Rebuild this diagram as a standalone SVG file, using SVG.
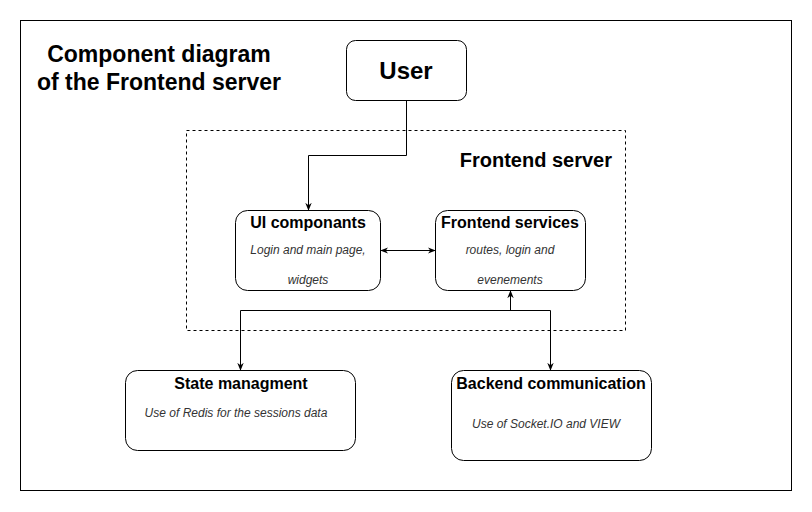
<svg xmlns="http://www.w3.org/2000/svg" width="812" height="512" viewBox="0 0 812 512">
<defs>
<marker id="arr" viewBox="0 0 10 10" refX="9" refY="5" markerWidth="8" markerHeight="8" markerUnits="userSpaceOnUse" orient="auto-start-reverse">
<path d="M0,1 L10,5 L0,9 L3,5 Z" fill="#000"/>
</marker>
<style>
.box{fill:#fff;stroke:#000;stroke-width:1}
.t{font-family:"Liberation Sans",Arial,sans-serif;font-weight:bold;fill:#000;text-anchor:middle}
.s{font-family:"Liberation Sans",Arial,sans-serif;font-style:italic;font-size:12px;fill:#333;text-anchor:middle}
.c{fill:none;stroke:#000;stroke-width:1}
</style>
</defs>
<rect x="0" y="0" width="812" height="512" fill="#fff"/>
<rect id="frame" x="20.5" y="20.5" width="771" height="470" fill="#fff" stroke="#000"/>
<g id="title">
<text class="t" x="159" y="62" font-size="23">Component diagram</text>
<text class="t" x="159" y="90" font-size="23">of the Frontend server</text>
</g>
<g id="frontend-server">
<rect x="186.5" y="130.5" width="439" height="200" fill="none" stroke="#000" stroke-dasharray="3,3"/>
<text class="t" x="612" y="167" font-size="20" style="text-anchor:end">Frontend server</text>
</g>
<g id="user">
<rect class="box" x="346.5" y="40.5" width="120" height="60" rx="9"/>
<text class="t" x="406" y="79" font-size="24">User</text>
</g>
<g id="ui">
<rect class="box" x="235.5" y="210.5" width="145" height="80" rx="12"/>
<text class="t" x="308" y="228" font-size="16">UI componants</text>
<text class="s" x="308" y="254">Login and main page,</text>
<text class="s" x="308" y="284">widgets</text>
</g>
<g id="services">
<rect class="box" x="435.5" y="210.5" width="150" height="80" rx="12"/>
<text class="t" x="510" y="228" font-size="16">Frontend services</text>
<text class="s" x="510" y="254">routes, login and</text>
<text class="s" x="510" y="284">evenements</text>
</g>
<g id="state">
<rect class="box" x="125.5" y="370.5" width="230" height="80" rx="12"/>
<text class="t" x="241" y="389" font-size="16">State managment</text>
<text class="s" x="236" y="417">Use of Redis for the sessions data</text>
</g>
<g id="backend">
<rect class="box" x="451.5" y="370.5" width="200" height="90" rx="12"/>
<text class="t" x="551" y="389" font-size="16">Backend communication</text>
<text class="s" x="546" y="428">Use of Socket.IO and VIEW</text>
</g>
<g id="connectors">
<path class="c" d="M406.5,100.5 V155.5 H308.5 V210" marker-end="url(#arr)"/>
<path class="c" d="M381,250.5 H435" marker-start="url(#arr)" marker-end="url(#arr)"/>
<path class="c" d="M510.5,310.5 V291" marker-end="url(#arr)"/>
<path class="c" d="M240.5,370 V310.5 H550.5 V370" marker-start="url(#arr)" marker-end="url(#arr)"/>
</g>
</svg>
